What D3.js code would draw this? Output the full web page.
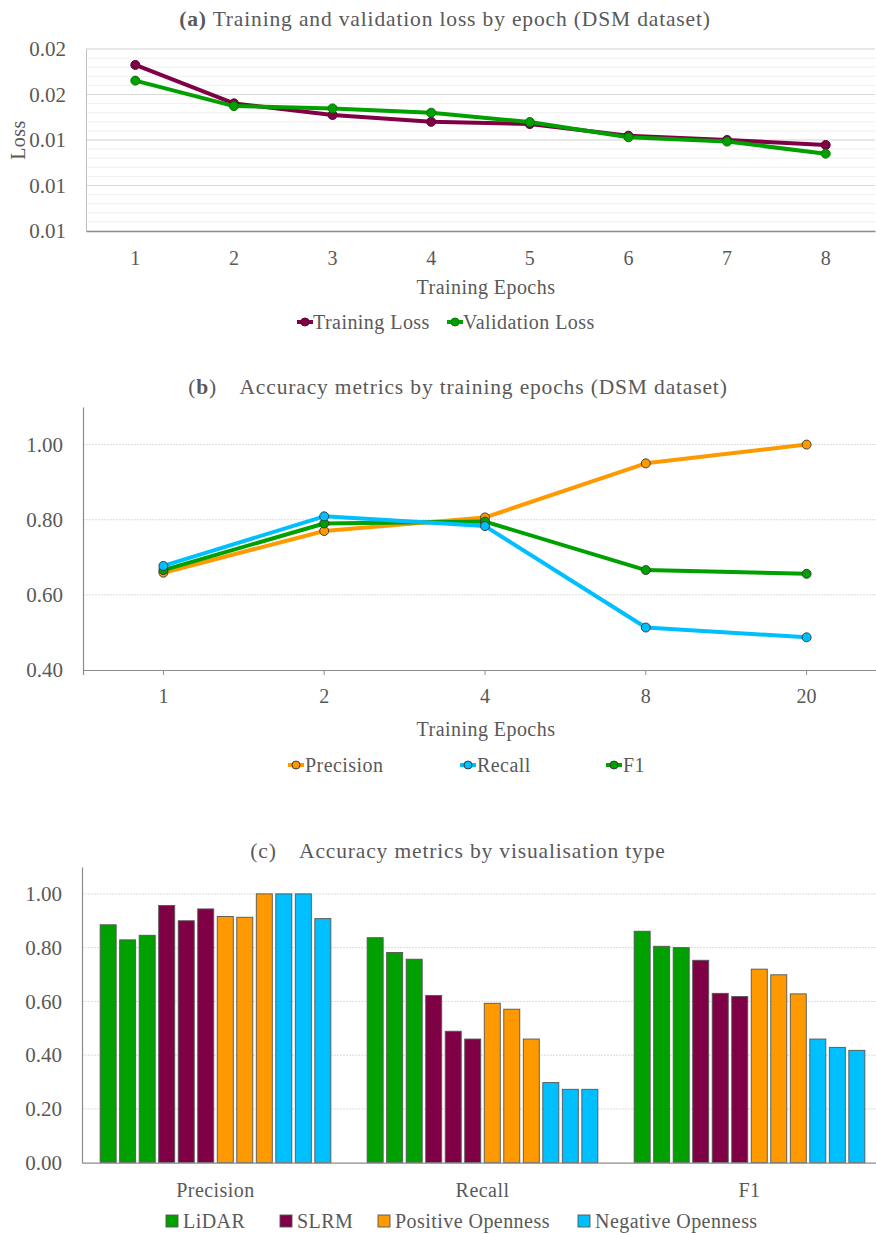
<!DOCTYPE html>
<html>
<head>
<meta charset="utf-8">
<script src="https://cdn.jsdelivr.net/npm/d3@7"></script>
<style>
  html, body { margin: 0; padding: 0; background: #fff; }
  svg { display: block; }
  text { font-family: "Palatino Linotype", "Book Antiqua", Palatino, "Liberation Serif", serif; fill: #595959; }
  .title { font-size: 21.5px; letter-spacing: 0.85px; }
  .label { font-size: 20px; letter-spacing: 0.45px; }
  .tick text { font-size: 20px; }
  .ytick text { font-size: 21px; }
</style>
</head>
<body>
<svg id="chart" width="876" height="1234"></svg>
<script>
// ---- (a) loss by epoch ----
const lossEpochs = ["1", "2", "3", "4", "5", "6", "7", "8"];
const trainingLoss = [0.0173, 0.01561, 0.0151, 0.0148, 0.0147, 0.01419, 0.0140, 0.01378];
const validationLoss = [0.01661, 0.01549, 0.01539, 0.0152, 0.01479, 0.01412, 0.01393, 0.0134];
const lossTicks = [0.010, 0.012, 0.014, 0.016, 0.018];

// ---- (b) accuracy by training epochs ----
const accEpochs = ["1", "2", "4", "8", "20"];
const precisionByEpoch = [0.659, 0.770, 0.806, 0.950, 1.000];
const recallByEpoch = [0.677, 0.809, 0.783, 0.513, 0.487];
const f1ByEpoch = [0.666, 0.790, 0.795, 0.666, 0.656];
const accTicks = [0.4, 0.6, 0.8, 1.0];

// ---- (c) accuracy by visualisation type ----
const metrics = ["Precision", "Recall", "F1"];
const visTypes = ["LiDAR", "SLRM", "Positive Openness", "Negative Openness"];
// three runs per visualisation type, for each metric
const lidarValues = [[0.885, 0.829, 0.846], [0.837, 0.782, 0.757], [0.861, 0.805, 0.800]];
const slrmValues = [[0.957, 0.900, 0.944], [0.622, 0.489, 0.460], [0.753, 0.630, 0.618]];
const posOpenValues = [[0.916, 0.913, 1.000], [0.593, 0.571, 0.460], [0.720, 0.699, 0.628]];
const negOpenValues = [[1.000, 1.000, 0.908], [0.298, 0.273, 0.273], [0.460, 0.429, 0.418]];
const barTicks = [0, 0.2, 0.4, 0.6, 0.8, 1.0];

const PURPLE = "#800045", GREEN = "#00a000", ORANGE = "#ff9900", CYAN = "#00bfff";
const TEXT = "#595959";

const svg = d3.select("#chart");

// ================= Panel (a) =================
{
  const left = 86, right = 875, top = 49, bottom = 231;
  const g = svg.append("g");
  const x = d3.scaleBand().domain(lossEpochs).range([left, right]);
  const y = d3.scaleLinear().domain([0.010, 0.018]).range([bottom, top]);

  // minor gridlines
  const minor = d3.range(0, 21).map(i => 0.010 + i * 0.0004);
  g.append("g").selectAll("line").data(minor).join("line")
    .attr("x1", left).attr("x2", right)
    .attr("y1", d => y(d)).attr("y2", d => y(d))
    .attr("stroke", "#efefef").attr("stroke-width", 1);
  // major gridlines
  g.append("g").selectAll("line").data(lossTicks.slice(1)).join("line")
    .attr("x1", left).attr("x2", right)
    .attr("y1", d => y(d)).attr("y2", d => y(d))
    .attr("stroke", "#d9d9d9").attr("stroke-width", 1);

  // axes
  const yAxis = g.append("g").attr("class", "ytick").attr("transform", `translate(${left},0)`)
    .call(d3.axisLeft(y).tickValues(lossTicks).tickFormat(d3.format(".2f")).tickSize(0).tickPadding(20));
  yAxis.select(".domain").attr("stroke", "#bfbfbf");
  yAxis.selectAll("text").attr("fill", TEXT).attr("font-family", null);

  const xAxis = g.append("g").attr("transform", `translate(0,${bottom})`)
    .call(d3.axisBottom(x).tickSize(0).tickPadding(20));
  xAxis.select(".domain").attr("stroke", "#8c8c8c").attr("stroke-width", 1.3);
  xAxis.selectAll("text").attr("fill", TEXT);

  const line = d3.line().x((d, i) => x(lossEpochs[i]) + x.bandwidth() / 2).y(d => y(d));
  [[trainingLoss, PURPLE, "#5a0030"], [validationLoss, GREEN, "#007a00"]].forEach(([vals, c, sc]) => {
    g.append("path").datum(vals).attr("d", line)
      .attr("fill", "none").attr("stroke", c).attr("stroke-width", 4).attr("stroke-linejoin", "round");
    g.append("g").selectAll("circle").data(vals).join("circle")
      .attr("cx", (d, i) => x(lossEpochs[i]) + x.bandwidth() / 2)
      .attr("cy", d => y(d)).attr("r", 4.5)
      .attr("fill", c).attr("stroke", sc).attr("stroke-width", 1);
  });

  svg.append("text").attr("class", "title").attr("x", 445).attr("y", 26).attr("text-anchor", "middle")
    .html('<tspan font-weight="bold">(a)</tspan> Training and validation loss by epoch (DSM dataset)');
  svg.append("text").attr("class", "label").attr("transform", "translate(25,140) rotate(-90)").attr("text-anchor", "middle")
    .text("Loss");
  svg.append("text").attr("class", "label").attr("x", 486).attr("y", 294).attr("text-anchor", "middle")
    .text("Training Epochs");

  const leg = [["Training Loss", PURPLE, "#5a0030", 297], ["Validation Loss", GREEN, "#007a00", 447]];
  leg.forEach(([name, c, sc, lx]) => {
    svg.append("line").attr("x1", lx).attr("x2", lx + 16).attr("y1", 322).attr("y2", 322)
      .attr("stroke", c).attr("stroke-width", 4);
    svg.append("circle").attr("cx", lx + 8).attr("cy", 322).attr("r", 4).attr("fill", c).attr("stroke", sc);
    svg.append("text").attr("class", "label").attr("x", lx + 16).attr("y", 329).text(name);
  });
}

// ================= Panel (b) =================
{
  const left = 83, right = 887, top = 407, bottom = 670;
  const g = svg.append("g");
  const x = d3.scaleBand().domain(accEpochs).range([left, right]);
  const y = d3.scaleLinear().domain([0.4, 1.1]).range([bottom, top]);

  g.append("g").selectAll("line").data([0.6, 0.8, 1.0]).join("line")
    .attr("x1", left).attr("x2", right)
    .attr("y1", d => y(d)).attr("y2", d => y(d))
    .attr("stroke", "#dcdcdc").attr("stroke-width", 1).attr("stroke-dasharray", "2,1");

  const yAxis = g.append("g").attr("class", "ytick").attr("transform", `translate(${left},0)`)
    .call(d3.axisLeft(y).tickValues(accTicks).tickFormat(d3.format(".2f")).tickSize(0).tickPadding(20));
  yAxis.select(".domain").attr("stroke", "#8c8c8c").attr("stroke-width", 1.2);
  yAxis.selectAll("text").attr("fill", TEXT);

  const xAxis = g.append("g").attr("transform", `translate(0,${bottom})`)
    .call(d3.axisBottom(x).tickSize(5).tickPadding(14));
  xAxis.select(".domain").attr("stroke", "#8c8c8c").attr("stroke-width", 1.2);
  xAxis.selectAll(".tick line").attr("stroke", "#8c8c8c");
  xAxis.selectAll("text").attr("fill", TEXT);

  const cx = i => x(accEpochs[i]) + x.bandwidth() / 2;
  const line = d3.line().x((d, i) => cx(i)).y(d => y(d));
  const series = [[precisionByEpoch, ORANGE], [f1ByEpoch, GREEN], [recallByEpoch, CYAN]];
  series.forEach(([vals, c]) => {
    g.append("path").datum(vals).attr("d", line)
      .attr("fill", "none").attr("stroke", c).attr("stroke-width", 4).attr("stroke-linejoin", "round");
  });
  series.forEach(([vals, c]) => {
    g.append("g").selectAll("circle").data(vals).join("circle")
      .attr("cx", (d, i) => cx(i)).attr("cy", d => y(d)).attr("r", 4.5)
      .attr("fill", c).attr("stroke", "#333").attr("stroke-width", 0.9);
  });

  svg.append("text").attr("class", "title").attr("x", 458).attr("y", 394).attr("text-anchor", "middle")
    .html('(<tspan font-weight="bold">b</tspan>)\u2003Accuracy metrics by training epochs (DSM dataset)');
  svg.append("text").attr("class", "label").attr("x", 486).attr("y", 736).attr("text-anchor", "middle")
    .text("Training Epochs");

  const leg = [["Precision", ORANGE, 288], ["Recall", CYAN, 460], ["F1", GREEN, 606]];
  leg.forEach(([name, c, lx]) => {
    svg.append("line").attr("x1", lx).attr("x2", lx + 16).attr("y1", 765).attr("y2", 765)
      .attr("stroke", c).attr("stroke-width", 4);
    svg.append("circle").attr("cx", lx + 8).attr("cy", 765).attr("r", 4).attr("fill", c).attr("stroke", "#333").attr("stroke-width", 0.9);
    svg.append("text").attr("class", "label").attr("x", lx + 17).attr("y", 772).text(name);
  });
}

// ================= Panel (c) =================
{
  const left = 82, right = 883, top = 867, bottom = 1162.7;
  const g = svg.append("g");
  const x0 = d3.scaleBand().domain(metrics).range([left, right]);
  const runs = d3.range(12);
  const x1 = d3.scaleBand().domain(runs).range([0, x0.bandwidth()]).paddingInner(0.18).paddingOuter(0.93);
  const y = d3.scaleLinear().domain([0, 1.1]).range([bottom, top]);
  const color = d3.scaleOrdinal().domain(visTypes).range([GREEN, PURPLE, ORANGE, CYAN]);
  const byType = [lidarValues, slrmValues, posOpenValues, negOpenValues];

  g.append("g").selectAll("line").data([0.2, 0.4, 0.6, 0.8, 1.0]).join("line")
    .attr("x1", left).attr("x2", right)
    .attr("y1", d => y(d)).attr("y2", d => y(d))
    .attr("stroke", "#dcdcdc").attr("stroke-width", 1).attr("stroke-dasharray", "2,1");

  const yAxis = g.append("g").attr("class", "ytick").attr("transform", `translate(${left},0)`)
    .call(d3.axisLeft(y).tickValues(barTicks).tickFormat(d3.format(".2f")).tickSize(0).tickPadding(20));
  yAxis.select(".domain").attr("stroke", "#8c8c8c").attr("stroke-width", 1.2);
  yAxis.selectAll("text").attr("fill", TEXT);

  const bars = [];
  metrics.forEach((m, mi) => {
    visTypes.forEach((t, ti) => {
      byType[ti][mi].forEach((v, ri) => {
        bars.push({ metric: m, type: t, idx: ti * 3 + ri, value: v });
      });
    });
  });
  g.append("g").selectAll("rect").data(bars).join("rect")
    .attr("x", d => x0(d.metric) + x1(d.idx))
    .attr("width", x1.bandwidth())
    .attr("y", d => y(d.value))
    .attr("height", d => y(0) - y(d.value))
    .attr("fill", d => color(d.type))
    .attr("stroke", "#555").attr("stroke-width", 0.9);

  const xAxis = g.append("g").attr("transform", `translate(0,${bottom})`)
    .call(d3.axisBottom(x0).tickSize(0).tickPadding(20));
  xAxis.select(".domain").attr("stroke", "#8c8c8c").attr("stroke-width", 1.2);
  xAxis.selectAll("text").attr("fill", TEXT).style("letter-spacing", "0.45px");

  svg.append("text").attr("class", "title").attr("x", 458).attr("y", 858).attr("text-anchor", "middle")
    .text("(c)\u2003Accuracy metrics by visualisation type");

  const legX = [166, 280, 378, 578];
  visTypes.forEach((t, i) => {
    svg.append("rect").attr("x", legX[i]).attr("y", 1215).attr("width", 12).attr("height", 12)
      .attr("fill", color(t)).attr("stroke", "#555").attr("stroke-width", 0.9);
    svg.append("text").attr("class", "label").attr("x", legX[i] + 17).attr("y", 1228).text(t);
  });
}
</script>
</body>
</html>
